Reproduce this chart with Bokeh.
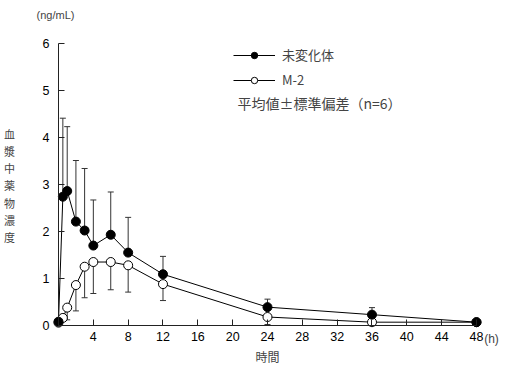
from bokeh.plotting import figure
from bokeh.models import (Range1d, FixedTicker, Whisker, TeeHead, ColumnDataSource,
                          Label, Legend, LegendItem)
from bokeh.embed import file_html
from bokeh.resources import INLINE

# ---- data ----
hours = [0, 0.5, 1, 2, 3, 4, 6, 8, 12, 24, 36, 48]
parent_mean = [0.07, 2.73, 2.85, 2.20, 2.01, 1.69, 1.92, 1.54, 1.08, 0.38, 0.22, 0.06]
m2_mean = [0.05, 0.15, 0.37, 0.85, 1.24, 1.34, 1.34, 1.27, 0.87, 0.17, 0.06, 0.06]

parent_sd_hours = [0.5, 1, 2, 3, 4, 6, 8, 12, 24, 36]
parent_sd_mean = [2.73, 2.85, 2.20, 2.01, 1.69, 1.92, 1.54, 1.08, 0.38, 0.22]
parent_upper = [4.40, 4.22, 3.50, 3.33, 2.66, 2.83, 2.29, 1.46, 0.55, 0.37]

m2_sd_hours = [1, 2, 3, 4, 6, 8, 12, 24]
m2_sd_mean = [0.37, 0.85, 1.24, 1.34, 1.34, 1.27, 0.87, 0.17]
m2_lower = [0.11, 0.30, 0.58, 0.67, 0.75, 0.70, 0.52, 0.01]

x_ticks = [4, 8, 12, 16, 20, 24, 28, 32, 36, 40, 44, 48]
y_ticks = [0, 1, 2, 3, 4, 5, 6]

name_parent = "未変化体"
name_m2 = "M-2"
note_text = "平均値±標準偏差（n=6）"
unit_text = "(ng/mL)"
y_title = "血漿中薬物濃度"
x_title = "時間"
x_unit = "(h)"

LAT = "'Liberation Sans', 'Noto Sans CJK JP', sans-serif"
JP = "'Noto Sans CJK JP', sans-serif"

# ---- layout (canvas pixels) ----
W, H = 501, 364
X0, SX = 58.0, 8.708     # canvas x of t=0, px per hour
Y0, SY = 324.5, 47.0     # canvas y of 0 ng/mL, px per ng/mL


def dx(px):
    return (px - X0) / SX


def dy(py):
    return (Y0 - py) / SY


p = figure(width=W, height=H, output_backend="svg", toolbar_location=None,
           x_range=Range1d(dx(0), dx(W)), y_range=Range1d(dy(H), dy(0)),
           min_border=0, min_border_left=0, min_border_right=0,
           min_border_top=0, min_border_bottom=0)
p.outline_line_color = None
p.grid.visible = False
p.background_fill_color = "white"

for ax in (p.xaxis[0], p.yaxis[0]):
    ax.fixed_location = 0
    ax.major_tick_in = 6
    ax.major_tick_out = 0
    ax.minor_tick_line_color = None
    ax.axis_line_color = "#222222"
    ax.major_tick_line_color = "#222222"
    ax.major_label_text_font = LAT
    ax.major_label_text_font_size = "12.5px"
    ax.major_label_text_color = "black"
p.xaxis.ticker = FixedTicker(ticks=x_ticks)
p.yaxis.ticker = FixedTicker(ticks=y_ticks)
p.xaxis.bounds = (0, 48)
p.yaxis.bounds = (0, 6)
p.xaxis.major_label_standoff = 7
p.yaxis.major_label_standoff = 9

# error bars
src_p = ColumnDataSource(dict(x=parent_sd_hours, lo=parent_sd_mean, hi=parent_upper))
src_m = ColumnDataSource(dict(x=m2_sd_hours, lo=m2_lower, hi=m2_sd_mean))
wp = Whisker(source=src_p, base="x", lower="lo", upper="hi", dimension="height",
             line_color="#333333", line_width=1, lower_head=None,
             upper_head=TeeHead(size=6, line_color="#333333", line_width=1), level="underlay")
wm = Whisker(source=src_m, base="x", lower="lo", upper="hi", dimension="height",
             line_color="#333333", line_width=1, upper_head=None,
             lower_head=TeeHead(size=6, line_color="#333333", line_width=1), level="underlay")
p.add_layout(wp)
p.add_layout(wm)

lm = p.line(hours, m2_mean, line_color="black", line_width=1)
lp = p.line(hours, parent_mean, line_color="black", line_width=1)
sm = p.scatter(hours, m2_mean, size=9, fill_color="white", line_color="black", line_width=1)
sp = p.scatter(hours, parent_mean, size=9, fill_color="black", line_color="black")

legend = Legend(items=[LegendItem(label=name_parent, renderers=[lp, sp]),
                       LegendItem(label=name_m2, renderers=[lm, sm])],
                location=(233, 275), padding=0, margin=0, spacing=6,
                glyph_width=42, glyph_height=16, label_height=16, label_standoff=7,
                label_text_font=JP, label_text_font_size="13px",
                border_line_color=None, background_fill_alpha=0)
p.add_layout(legend)

p.add_layout(Label(x=dx(237), y=dy(102), text=note_text,
                   text_font=JP, text_font_size="14px", text_baseline="middle"))
p.add_layout(Label(x=dx(55), y=dy(14), text=unit_text,
                   text_font=LAT, text_font_size="11px", text_baseline="middle",
                   text_align="center"))
p.add_layout(Label(x=dx(491), y=dy(338), text=x_unit,
                   text_font=LAT, text_font_size="12px", text_baseline="middle",
                   text_align="center"))
p.add_layout(Label(x=dx(267), y=dy(356), text=x_title,
                   text_font=JP, text_font_size="12px", text_baseline="middle",
                   text_align="center"))
p.add_layout(Label(x=dx(9), y=dy(125), text="\n".join(y_title),
                   text_font=JP, text_font_size="11px", text_baseline="top",
                   text_align="center", text_line_height=1.08))

open("out.html", "w").write(file_html(p, INLINE))
